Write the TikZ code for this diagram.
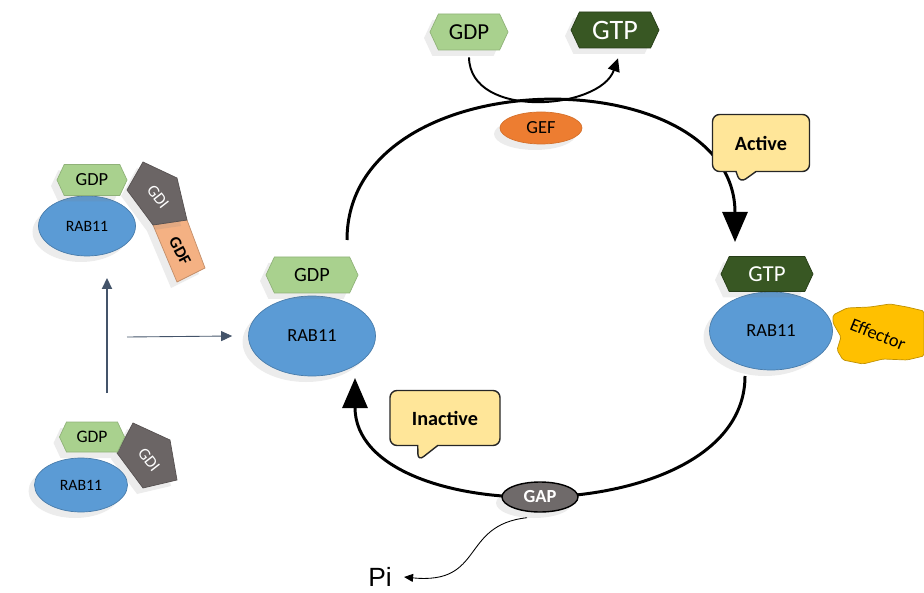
\documentclass[tikz,border=0pt]{standalone}
\usepackage{fontspec}
\setmainfont{Carlito}
\newfontfamily\pifont{Liberation Sans}
\usepackage{tikz}
\usetikzlibrary{
  arrows.meta,
  shapes.geometric,
  shapes.symbols,
  shapes.callouts,
  shadows
}
\definecolor{rabBlue}{HTML}{5B9BD5}
\definecolor{gdpGreen}{HTML}{A9D18E}
\definecolor{gtpGreen}{HTML}{385723}
\definecolor{gefOrange}{HTML}{ED7D31}
\definecolor{gapGray}{HTML}{6F6A6A}
\definecolor{gdiGray}{HTML}{6B6565}
\definecolor{gdfPeach}{HTML}{F4B183}
\definecolor{bubbleFill}{HTML}{FFE699}
\definecolor{effGold}{HTML}{FFC000}
\definecolor{slateArrow}{HTML}{44546A}
\tikzset{
  soft/.style={drop shadow={shadow xshift=-1.2mm, shadow yshift=-1.2mm, opacity=0.15}},
  rabnode/.style={ellipse, draw=rabBlue!80!black, fill=rabBlue, inner sep=0pt, soft},
  nucleo/.style={signal, signal to=east and west, signal pointer angle=130, inner sep=0pt, soft},
  gdpnode/.style={nucleo, fill=gdpGreen, draw=gdpGreen!85!black},
  gtpnode/.style={nucleo, fill=gtpGreen, draw=gtpGreen!70!black, text=white},
  gef/.style={ellipse, fill=gefOrange, draw=gefOrange!90!black, inner sep=0pt,
    minimum width=16.4mm, minimum height=6.4mm, font=\fontsize{10.5}{12}\selectfont, soft},
  gap/.style={ellipse, fill=gapGray, draw=black, thick, text=white, inner sep=0pt,
    minimum width=15.2mm, minimum height=6mm, font=\fontsize{10.5}{12}\selectfont\bfseries, soft},
  gdipoly/.style={fill=gdiGray, draw=gdiGray!80!black, soft},
  gdfpoly/.style={fill=gdfPeach, draw=gdfPeach!80!black, soft},
  gdilabel/.style={text=white, font=\fontsize{9.5}{11}\selectfont, inner sep=0pt},
  gdflabel/.style={font=\fontsize{9.5}{11}\selectfont\bfseries, inner sep=0pt},
  bubble/.style={rectangle callout, rounded corners=4pt, draw=black!85, thick, fill=bubbleFill,
    callout pointer width=4mm, font=\fontsize{11.5}{13}\selectfont\bfseries},
  effpoly/.style={fill=effGold, draw=effGold!75!black, rounded corners=1pt},
  cyclearc/.style={line width=1.7pt, -{Triangle[length=6mm, width=5mm]}},
  exch/.style={line width=1.1pt, -{Triangle[length=2.6mm, width=2.4mm]}},
  release/.style={line width=0.5pt, -{Triangle[length=1.8mm, width=1.6mm]}},
  recruit/.style={slateArrow, -{Triangle[length=2.2mm, width=2mm]}}
}

\begin{document}
\begin{tikzpicture}[x=0.2mm, y=-0.2mm]
  \useasboundingbox (0,0) rectangle (924,593);

  % GTPase cycle
  \coordinate (actL) at (347,240);
  \coordinate (actR) at (735,242);
  \coordinate (inaR) at (745,376);
  \coordinate (inaL) at (355,378);
  \draw[cyclearc] (actL) .. controls (347,57) and (735,57) .. (actR);
  \draw[cyclearc] (inaR) .. controls (745,532) and (355,532) .. (inaL);

  % nucleotide exchange
  \node[gdpnode, minimum width=15.6mm, minimum height=7.2mm, font=\fontsize{13}{15}\selectfont] (gdpT) at (469,32) {GDP};
  \node[gtpnode, minimum width=17.6mm, minimum height=7.2mm, font=\fontsize{16}{18}\selectfont] (gtpT) at (615,30) {GTP};
  \draw[exch] ([yshift=-1.4mm]gdpT.south) .. controls (470,120) and (600,110) .. ([shift={(0.6mm,-2mm)}]gtpT.south);
  \node[gef] (gef) at (541,128) {GEF};

  % hydrolysis
  \node[gap] (gap) at (540,497) {GAP};
  \node[font=\pifont\fontsize{15}{17}\selectfont, inner sep=0pt] (pi) at (380,577) {Pi};
  \draw[release] ([shift={(-2.6mm,-1mm)}]gap.south) .. controls (460,525) and (485,585) .. ([xshift=2.4mm]pi.east);

  % state labels
  \node[bubble, minimum width=19.4mm, minimum height=11.4mm, callout absolute pointer={(740,183)}] (active) at (761,143) {Active};
  \node[bubble, minimum width=22mm, minimum height=11mm, callout absolute pointer={(418,461)}] (inactive) at (445,418) {Inactive};

  % inactive RAB11
  \node[rabnode, minimum width=25.4mm, minimum height=16mm, font=\fontsize{10.5}{12}\selectfont] (rabM) at (312,336) {RAB11};
  \node[gdpnode, minimum width=18.4mm, minimum height=7.2mm, font=\fontsize{11.5}{13}\selectfont] (gdpM) at (312,275) {GDP};

  % active RAB11 with effector
  \draw[effpoly] (833,315) -- (847,308) -- (870,307) -- (890,304) -- (907,307) -- (924,311)
    -- (924,356) -- (907,360) -- (883,359) -- (863,364) -- (843,360) -- (837,350)
    -- (841,337) -- (833,323) -- cycle;
  \node[rotate=-22, font=\fontsize{10.5}{12}\selectfont, inner sep=0pt] (eff) at (878,334) {Effector};
  \node[rabnode, minimum width=24.6mm, minimum height=15.6mm, font=\fontsize{10.5}{12}\selectfont] (rabR) at (771,331) {RAB11};
  \node[gtpnode, minimum width=18.4mm, minimum height=7mm, font=\fontsize{13}{15}\selectfont] (gtpR) at (767,274) {GTP};

  % RAB11-GDI-GDF complex
  \draw[gdfpoly] (153,225) -- (187,220) -- (205,268) -- (177,282) -- cycle;
  \node[gdflabel, rotate=-62] (gdfA) at (180,251) {GDF};
  \draw[gdipoly] (127,190) -- (143,162) -- (177,178) -- (187,220) -- (153,225) -- cycle;
  \node[gdilabel, rotate=-52] (gdiA) at (158,197) {GDI};
  \node[rabnode, minimum width=19.4mm, minimum height=12mm, font=\fontsize{9}{11}\selectfont] (rabA) at (87,226) {RAB11};
  \node[gdpnode, minimum width=14mm, minimum height=6.2mm, font=\fontsize{10.5}{12}\selectfont] (gdpA) at (92,180) {GDP};

  % RAB11-GDI complex
  \draw[gdipoly] (117,453) -- (133,423) -- (170,440) -- (177,480) -- (143,488) -- cycle;
  \node[gdilabel, rotate=-52] (gdiB) at (149,460) {GDI};
  \node[rabnode, minimum width=18.6mm, minimum height=10.8mm, font=\fontsize{9}{11}\selectfont] (rabB) at (81,485) {RAB11};
  \node[gdpnode, minimum width=13mm, minimum height=6mm, font=\fontsize{10}{12}\selectfont] (gdpB) at (92,437) {GDP};

  % recruitment
  \coordinate (upS) at (107,393);
  \coordinate (upE) at (107,278);
  \coordinate (inS) at (127,337);
  \draw[recruit, line width=1.2pt] (upS) -- (upE);
  \draw[recruit, line width=0.5pt] (inS) -- ([xshift=-3.2mm]rabM.west);
\end{tikzpicture}
\end{document}
